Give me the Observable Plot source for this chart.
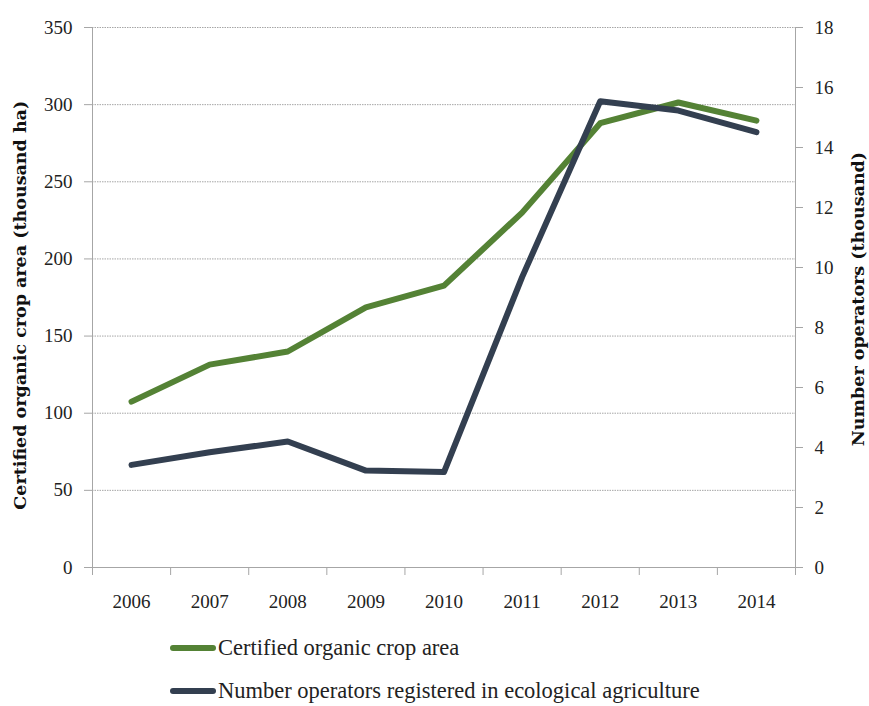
<!DOCTYPE html>
<html>
<head>
<meta charset="utf-8">
<script src="https://cdn.jsdelivr.net/npm/d3@7"></script>
<script src="https://cdn.jsdelivr.net/npm/@observablehq/plot@0.6"></script>
<style>
  body { margin: 0; background: #fff; font-family: "Liberation Serif", "DejaVu Serif", serif; }
  #chart { position: relative; width: 869px; }
  .legend { position: relative; height: 86px; }
  .item { position: absolute; left: 170px; display: flex; align-items: center; font-size: 22.5px; color: #222; }
  .sw { width: 46px; height: 6px; border-radius: 3px; margin-right: 2px; }
</style>
</head>
<body>
<div id="chart"></div>
<script>
const years = ["2006","2007","2008","2009","2010","2011","2012","2013","2014"];
const cropArea = [107.5, 131.5, 140, 168.6, 182.7, 230, 288, 301.4, 289.6];   // thousand ha
const operators = [3.42, 3.84, 4.2, 3.23, 3.18, 9.68, 15.54, 15.23, 14.51];  // thousand
const leftTicks = [0, 50, 100, 150, 200, 250, 300, 350];
const rightTicks = [0, 2, 4, 6, 8, 10, 12, 14, 16, 18];
const seriesNames = ["Certified organic crop area", "Number operators registered in ecological agriculture"];
const colors = ["#548235", "#333f50"];

const yMax = 350, y2Max = 18;
const k = yMax / y2Max;
const area = years.map((y, i) => ({i: i + 0.5, v: cropArea[i]}));
const ops = years.map((y, i) => ({i: i + 0.5, v: operators[i] * k}));
const titleFont = "'DejaVu Serif', 'Liberation Serif', serif";

const plot = Plot.plot({
  width: 869,
  height: 620,
  marginLeft: 92,
  marginRight: 74,
  marginTop: 27,
  marginBottom: 53,
  style: {fontFamily: "'Liberation Serif', 'DejaVu Serif', serif", fontSize: "19px", color: "#222"},
  x: {domain: [0, years.length]},
  y: {domain: [0, yMax]},
  marks: [
    Plot.gridY(leftTicks.slice(1), {stroke: "#a6a6a6", strokeOpacity: 1, strokeDasharray: "1.5,1"}),
    Plot.axisY(leftTicks, {anchor: "left", tickSize: 8, tickPadding: 12, stroke: "#a6a6a6", fill: "#222", fontSize: 19,
      label: null}),
    Plot.axisY(rightTicks.map(v => v * k), {anchor: "right", tickSize: 7, tickPadding: 12, stroke: "#a6a6a6", fill: "#222",
      tickFormat: d => Math.round(d / k), label: null, fontSize: 19}),
    Plot.axisX(d3.range(years.length + 1), {tickSize: 8, stroke: "#a6a6a6", tickFormat: () => "", label: null}),
    Plot.axisX(d3.range(years.length).map(i => i + 0.5), {tickSize: 0, tickPadding: 27, fill: "#222",
      tickFormat: d => years[Math.floor(d)], label: null, fontSize: 19}),
    Plot.ruleX([0], {stroke: "#a6a6a6"}),
    Plot.ruleX([years.length], {stroke: "#a6a6a6"}),
    Plot.ruleY([0], {stroke: "#a6a6a6"}),
    Plot.line(area, {x: "i", y: "v", stroke: colors[0], strokeWidth: 6, strokeLinecap: "round", strokeLinejoin: "round"}),
    Plot.line(ops, {x: "i", y: "v", stroke: colors[1], strokeWidth: 6, strokeLinecap: "round", strokeLinejoin: "round"}),
    Plot.text(["Certified organic crop area (thousand ha)"], {frameAnchor: "left", textAnchor: "middle", dx: -72, rotate: -90,
      fontWeight: "bold", fontSize: 17.5, fontFamily: titleFont, fill: "#111", y: 170}),
    Plot.text(["Number operators (thousand)"], {frameAnchor: "right", textAnchor: "middle", dx: 63, rotate: -90,
      fontWeight: "bold", fontSize: 17.5, fontFamily: titleFont, fill: "#111", y: 174})
  ]
});
document.getElementById("chart").appendChild(plot);

const legend = document.createElement("div");
legend.className = "legend";
seriesNames.forEach((name, j) => {
  const it = document.createElement("div");
  it.className = "item";
  it.style.top = (j === 0 ? 15 : 58) + "px";
  const sw = document.createElement("div");
  sw.className = "sw";
  sw.style.background = colors[j];
  const t = document.createElement("span");
  t.textContent = name;
  it.appendChild(sw);
  it.appendChild(t);
  legend.appendChild(it);
});
document.getElementById("chart").appendChild(legend);
</script>
</body>
</html>
